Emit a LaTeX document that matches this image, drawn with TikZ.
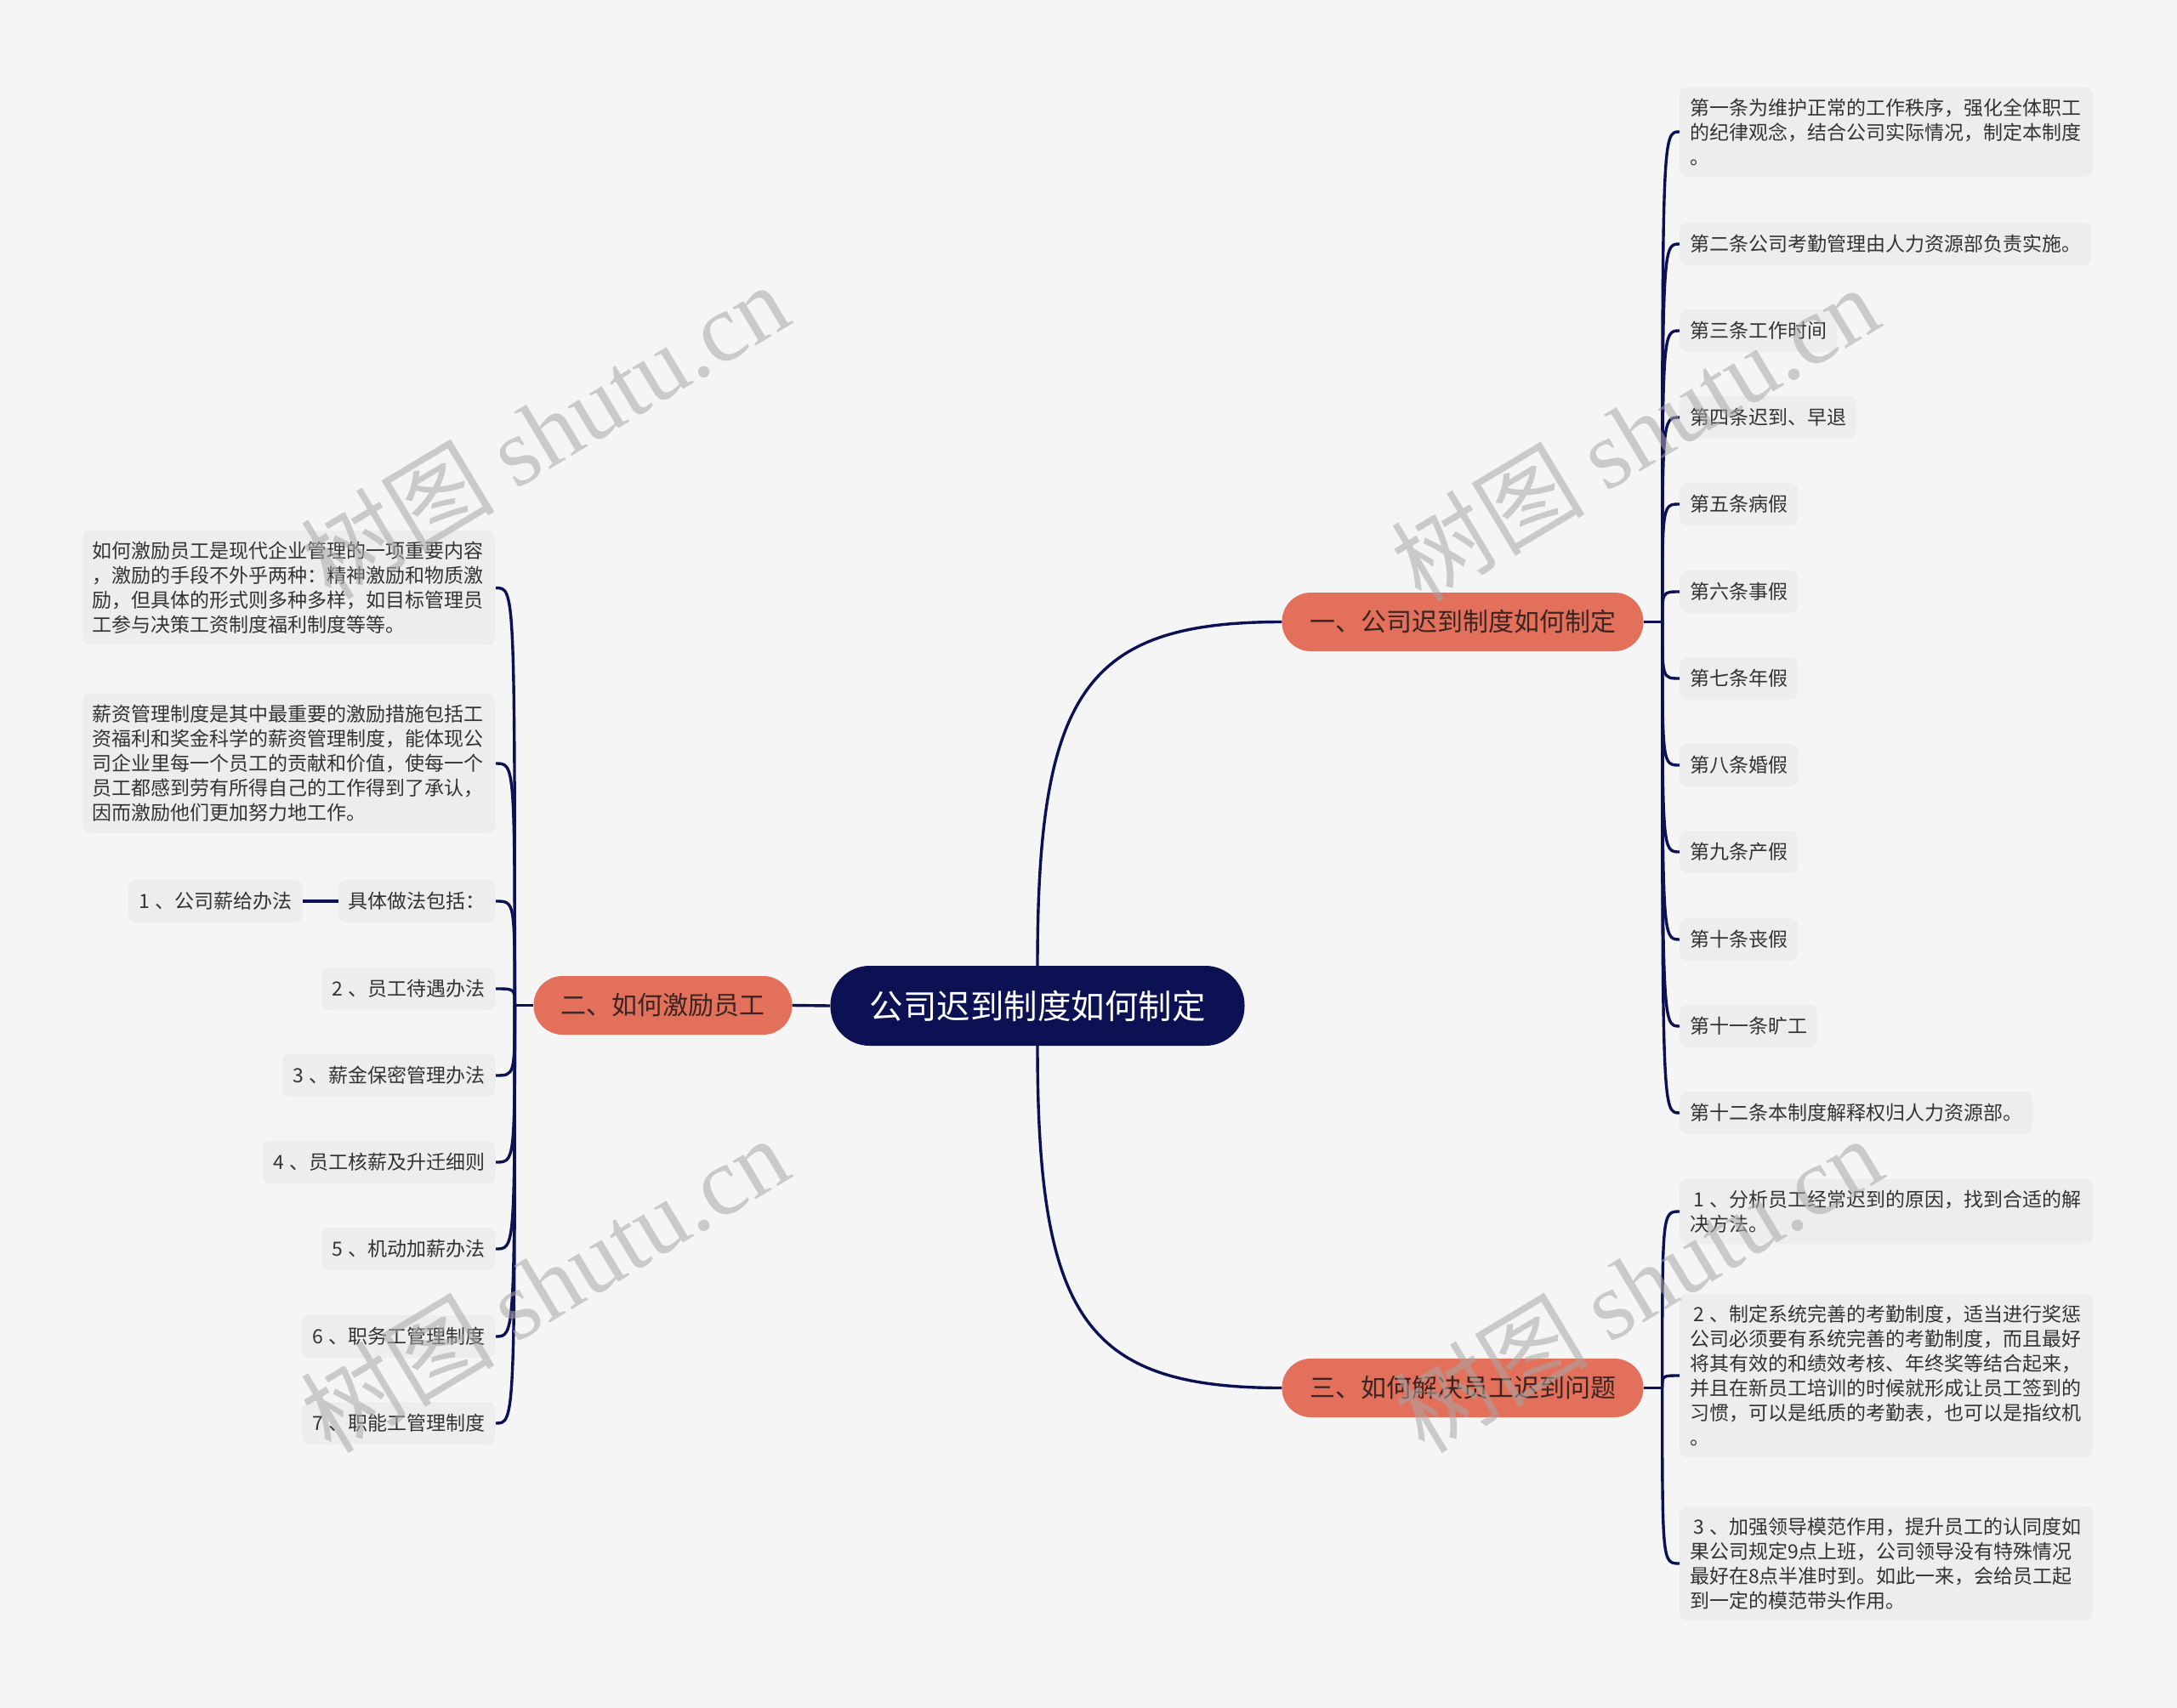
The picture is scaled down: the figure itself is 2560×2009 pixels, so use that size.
\documentclass[tikz,border=0pt]{standalone}
\usepackage{fontspec}
\setmainfont{Noto Sans CJK SC}
\newfontfamily\wmserif{Liberation Serif}
\usetikzlibrary{calc}
\definecolor{bgc}{HTML}{F5F5F5}
\definecolor{leafc}{HTML}{EDEDED}
\definecolor{navy}{HTML}{0B1152}
\definecolor{salmon}{HTML}{E2705A}
\definecolor{btxt}{HTML}{3A2424}
\definecolor{ltxt}{HTML}{333333}
\definecolor{wmc}{HTML}{A8A8A8}
\newcommand{\numsep}{\hspace{7pt}}
\begin{document}
\begin{tikzpicture}[x=1pt,y=-1pt,
  conn/.style={draw=navy, line width=3.4pt},
  leaf/.style={fill=leafc, rounded corners=9pt, text=ltxt, font=\fontsize{23}{29}\selectfont, inner xsep=12pt, inner ysep=0pt, minimum height=50pt, align=left},
  mleaf/.style={leaf, inner ysep=13pt, text width=462pt},
  branch/.style={fill=salmon, rounded corners=34pt, text=btxt, font=\fontsize{30}{36}\selectfont, minimum height=69pt, inner xsep=32pt},
  root/.style={fill=navy, text=white, rounded corners=46pt, font=\fontsize{39.5}{45}\selectfont, minimum height=94pt, minimum width=487pt},
  wm/.style={rotate=31, text=wmc, opacity=0.55, font=\fontsize{114}{114}\selectfont}
]
\useasboundingbox (0,0) rectangle (2560,2009);
\fill[bgc] (0,0) rectangle (2560,2009);

% root and branches
\node[root] (root) at (1220,1183) {公司迟到制度如何制定};
\node[branch, minimum width=425pt] (b1) at (1720,731.5) {一、公司迟到制度如何制定};
\node[branch] (b2) at (779.5,1182.5) {二、如何激励员工};
\node[branch, minimum width=425pt] (b3) at (1720,1632.5) {三、如何解决员工迟到问题};

% right leaves of branch 1
\node[mleaf, anchor=west] (r1) at (1975,155) {第一条为维护正常的工作秩序，强化全体职工\\的纪律观念，结合公司实际情况，制定本制度\\。};
\node[leaf, anchor=west] (r2) at (1975,287) {第二条公司考勤管理由人力资源部负责实施。};
\node[leaf, anchor=west] (r3) at (1975,389) {第三条工作时间};
\node[leaf, anchor=west] (r4) at (1975,491) {第四条迟到、早退};
\node[leaf, anchor=west] (r5) at (1975,593) {第五条病假};
\node[leaf, anchor=west] (r6) at (1975,696) {第六条事假};
\node[leaf, anchor=west] (r7) at (1975,798) {第七条年假};
\node[leaf, anchor=west] (r8) at (1975,900) {第八条婚假};
\node[leaf, anchor=west] (r9) at (1975,1002) {第九条产假};
\node[leaf, anchor=west] (r10) at (1975,1105) {第十条丧假};
\node[leaf, anchor=west] (r11) at (1975,1207) {第十一条旷工};
\node[leaf, anchor=west] (r12) at (1975,1309) {第十二条本制度解释权归人力资源部。};

% right leaves of branch 3
\node[mleaf, anchor=west] (t1) at (1975,1425) {\hspace{4pt}1\numsep、分析员工经常迟到的原因，找到合适的解\\决方法。};
\node[mleaf, anchor=west] (t2) at (1975,1618) {\hspace{4pt}2\numsep、制定系统完善的考勤制度，适当进行奖惩\\公司必须要有系统完善的考勤制度，而且最好\\将其有效的和绩效考核、年终奖等结合起来，\\并且在新员工培训的时候就形成让员工签到的\\习惯，可以是纸质的考勤表，也可以是指纹机\\。};
\node[mleaf, anchor=west] (t3) at (1975,1839) {\hspace{4pt}3\numsep、加强领导模范作用，提升员工的认同度如\\果公司规定9点上班，公司领导没有特殊情况\\最好在8点半准时到。如此一来，会给员工起\\到一定的模范带头作用。};

% left leaves of branch 2
\node[mleaf, anchor=east] (la) at (583,691.5) {如何激励员工是现代企业管理的一项重要内容\\，激励的手段不外乎两种：精神激励和物质激\\励，但具体的形式则多种多样，如目标管理员\\工参与决策工资制度福利制度等等。};
\node[mleaf, anchor=east] (lb) at (583,898) {薪资管理制度是其中最重要的激励措施包括工\\资福利和奖金科学的薪资管理制度，能体现公\\司企业里每一个员工的贡献和价值，使每一个\\员工都感到劳有所得自己的工作得到了承认，\\因而激励他们更加努力地工作。};
\node[leaf, anchor=east] (lc) at (583,1060) {具体做法包括：};
\node[leaf, anchor=east] (lc1) at (356,1060) {1\numsep、公司薪给办法};
\node[leaf, anchor=east] (ld) at (583,1163) {2\numsep、员工待遇办法};
\node[leaf, anchor=east] (le) at (583,1265) {3\numsep、薪金保密管理办法};
\node[leaf, anchor=east] (lf) at (583,1367) {4\numsep、员工核薪及升迁细则};
\node[leaf, anchor=east] (lg) at (583,1469) {5\numsep、机动加薪办法};
\node[leaf, anchor=east] (lh) at (583,1572) {6\numsep、职务工管理制度};
\node[leaf, anchor=east] (li) at (583,1674) {7\numsep、职能工管理制度};

% connectors root -> branches
\draw[conn] (root.west) -- (b2.east);
\draw[conn] (root.north) .. controls ($(root.north)!0.8!(root.north |- b1.west)$) and ($(b1.west)!0.8!(root.north |- b1.west)$) .. (b1.west);
\draw[conn] (root.south) .. controls ($(root.south)!0.8!(root.south |- b3.west)$) and ($(b3.west)!0.8!(root.south |- b3.west)$) .. (b3.west);

% branch 1 spine
\coordinate (s1) at ($(b1.east)+(22,0)$);
\draw[conn] (b1.east) -- (s1);
\foreach \n in {r1,r2,r3,r4,r5,r6,r7,r8,r9,r10,r11,r12}
  \draw[conn] (s1) .. controls (s1 |- \n.west) and (s1 |- \n.west) .. (\n.west);

% branch 3 spine
\coordinate (s3) at ($(b3.east)+(22,0)$);
\draw[conn] (b3.east) -- (s3);
\foreach \n in {t1,t2,t3}
  \draw[conn] (s3) .. controls (s3 |- \n.west) and (s3 |- \n.west) .. (\n.west);

% branch 2 spine
\coordinate (s2) at ($(b2.west)+(-22,0)$);
\draw[conn] (b2.west) -- (s2);
\foreach \n in {la,lb,lc,ld,le,lf,lg,lh,li}
  \draw[conn] (s2) .. controls (s2 |- \n.east) and (s2 |- \n.east) .. (\n.east);
\draw[conn] (lc.west) -- (lc1.east);

% watermarks
\node[wm] (w1) at (640,506) {树图 {\wmserif shutu.cn}};
\node[wm] (w2) at (1922,509) {树图 {\wmserif shutu.cn}};
\node[wm] (w3) at (640,1510) {树图 {\wmserif shutu.cn}};
\node[wm] (w4) at (1926,1510) {树图 {\wmserif shutu.cn}};
\end{tikzpicture}
\end{document}
